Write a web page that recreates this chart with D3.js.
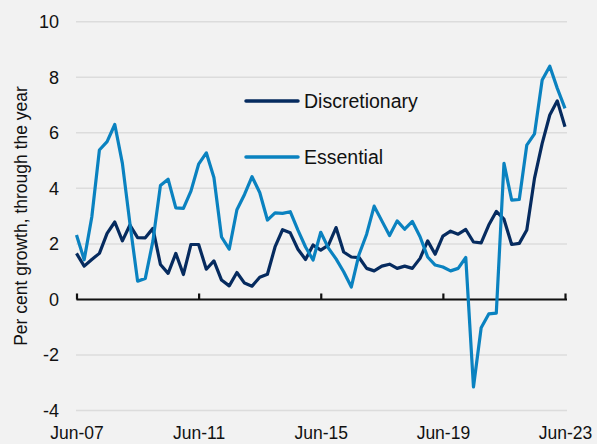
<!DOCTYPE html>
<html>
<head>
<meta charset="utf-8">
<script src="https://cdn.jsdelivr.net/npm/d3@7"></script>
<style>
	body { margin: 0; background: #f2f2f2; }
	svg { display: block; font-family: "Liberation Sans", Arial, sans-serif; }
</style>
</head>
<body>
<svg id="chart" width="597" height="444"></svg>
<script>
// quarterly, Jun-07 to Jun-23
var Discretionary = [1.66,1.20,1.44,1.66,2.38,2.79,2.11,2.68,2.23,2.22,2.56,
	1.26,0.94,1.66,0.90,1.98,1.98,1.09,1.39,0.70,0.49,0.97,
	0.59,0.48,0.80,0.91,1.89,2.51,2.40,1.81,1.44,1.96,1.78,
	1.96,2.59,1.71,1.53,1.51,1.12,1.03,1.20,1.27,1.12,1.20,
	1.12,1.48,2.11,1.63,2.28,2.46,2.35,2.52,2.07,2.04,2.68,
	3.17,2.89,1.98,2.02,2.50,4.36,5.62,6.64,7.15,6.22];

var Essential = [2.32,1.43,2.97,5.38,5.68,6.30,4.90,2.74,0.66,0.76,2.10,
	4.10,4.33,3.30,3.28,3.90,4.87,5.28,4.39,2.25,1.81,3.23,
	3.78,4.42,3.85,2.86,3.12,3.10,3.16,2.50,1.89,1.42,2.42,
	1.85,1.46,1.00,0.45,1.62,2.35,3.36,2.83,2.30,2.83,2.53,
	2.81,2.26,1.53,1.24,1.17,1.03,1.12,1.51,-3.15,-1.02,-0.52,
	-0.49,4.90,3.58,3.60,5.56,5.96,7.90,8.40,7.60,6.88];

var SeriesNames = ["Discretionary", "Essential"];
var SeriesColours = ["#062b5f", "#0a82c0"];
var XTickLabels = ["Jun-07", "Jun-11", "Jun-15", "Jun-19", "Jun-23"];
var YTicks = [-4, -2, 0, 2, 4, 6, 8, 10];

var StartQuarter = new Date(2007, 5, 1);
var Quarters = Discretionary.map(function(d, i)
	{
		return d3.timeMonth.offset(StartQuarter, 3 * i);
	}
);

var svg = d3.select("#chart");

var x = d3.scaleTime()
	.domain([Quarters[0], Quarters[Quarters.length - 1]])
	.range([76.5, 565]);

var y = d3.scaleLinear()
	.domain([-4, 10])
	.range([410.6, 21.7]);

// gridlines
svg.append("g")
	.selectAll("line")
	.data(YTicks)
	.join("line")
	.attr("x1", 76)
	.attr("x2", 567)
	.attr("y1", function(d) { return y(d); })
	.attr("y2", function(d) { return y(d); })
	.attr("stroke", "#dcdcdc")
	.attr("stroke-width", 1.5);

// y tick labels
var yAxis = svg.append("g")
	.attr("transform", "translate(76,0)")
	.call(d3.axisLeft(y).tickValues(YTicks).tickSize(0).tickPadding(17).tickFormat(function(d) { return String(d); }));
yAxis.select(".domain").remove();
yAxis.selectAll("text")
	.attr("font-size", 18)
	.attr("font-family", "Liberation Sans, Arial, sans-serif")
	.attr("fill", "#111");

// x axis along zero, ticks pointing up
var XTickDates = XTickLabels.map(function(l)
	{
		return new Date(2000 + +l.slice(4), 5, 1);
	}
);

var xAxis = svg.append("g")
	.attr("transform", "translate(0," + y(0) + ")")
	.call(d3.axisBottom(x).tickValues(XTickDates).tickSizeInner(-6).tickSizeOuter(0).tickFormat(""));
xAxis.select(".domain")
	.attr("d", "M" + x.range()[0] + ",0H567")
	.attr("stroke", "#111")
	.attr("stroke-width", 2.2);
xAxis.selectAll(".tick line")
	.attr("stroke", "#111")
	.attr("stroke-width", 2.2);

// x labels at the bottom
var xLabels = svg.append("g")
	.attr("transform", "translate(0,424)")
	.call(d3.axisBottom(x).tickValues(XTickDates).tickSize(0).tickPadding(3).tickFormat(function(d, i) { return XTickLabels[i]; }));
xLabels.select(".domain").remove();
xLabels.selectAll("text")
	.attr("font-size", 17.5)
	.attr("font-family", "Liberation Sans, Arial, sans-serif")
	.attr("fill", "#111");

// y title
svg.append("text")
	.attr("transform", "translate(27,216) rotate(-90)")
	.attr("text-anchor", "middle")
	.attr("font-size", 17.5)
	.attr("fill", "#111")
	.text("Per cent growth, through the year");

// lines
var line = d3.line()
	.x(function(d, i) { return x(Quarters[i]); })
	.y(function(d) { return y(d); });

svg.append("g")
	.selectAll("path")
	.data([Discretionary, Essential])
	.join("path")
	.attr("d", line)
	.attr("fill", "none")
	.attr("stroke", function(d, i) { return SeriesColours[i]; })
	.attr("stroke-width", 3.2)
	.attr("stroke-linejoin", "round");

// legend
var legend = svg.append("g")
	.selectAll("g")
	.data(SeriesNames)
	.join("g")
	.attr("transform", function(d, i) { return "translate(246," + (101 + i * 56) + ")"; });

legend.append("line")
	.attr("x1", 0)
	.attr("x2", 52)
	.attr("stroke", function(d, i) { return SeriesColours[i]; })
	.attr("stroke-width", 3.5)
	.attr("stroke-linecap", "round");

legend.append("text")
	.attr("x", 58)
	.attr("dy", "0.35em")
	.attr("font-size", 19.5)
	.attr("fill", "#111")
	.text(function(d) { return d; });
</script>
</body>
</html>
